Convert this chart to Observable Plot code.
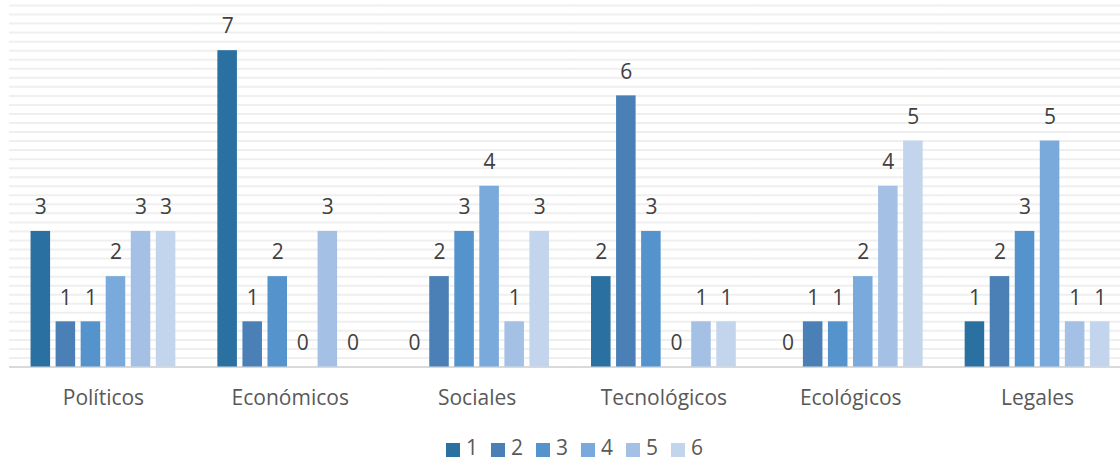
<!DOCTYPE html>
<html>
<head>
<meta charset="utf-8">
<script src="https://cdn.jsdelivr.net/npm/d3@7"></script>
<script src="https://cdn.jsdelivr.net/npm/@observablehq/plot@0.6"></script>
<style>
  html, body { margin: 0; padding: 0; background: #fff; overflow: hidden; }
  #chart { width: 1120px; height: 425px; overflow: hidden; }
  #legend { width: 1120px; height: 38px; display: flex; justify-content: center; align-items: flex-start; padding-top: 12px; padding-left: 29px; box-sizing: border-box;
            font-family: 'Open Sans', sans-serif; font-size: 21px; line-height: 21px; color: #595959; }
  .key { display: inline-flex; align-items: baseline; margin-right: 13px; }
  .key:last-child { margin-right: 0; }
  .key svg { margin-right: 6px; position: relative; top: 2px; }
</style>
</head>
<body>
<div id="chart"></div>
<div id="legend"></div>
<script>
// PESTEL factor groups and the six rating series
const categories = ["Políticos", "Económicos", "Sociales", "Tecnológicos", "Ecológicos", "Legales"];
const seriesNames = ["1", "2", "3", "4", "5", "6"];
const series1 = [3, 7, 0, 2, 0, 1];
const series2 = [1, 1, 2, 6, 1, 2];
const series3 = [1, 2, 3, 3, 1, 3];
const series4 = [2, 0, 4, 0, 2, 5];
const series5 = [3, 3, 1, 1, 4, 1];
const series6 = [3, 0, 3, 1, 5, 1];
const seriesColors = ["#2a70a0", "#4a80b6", "#5593cc", "#7aa9db", "#a4c1e5", "#c3d5ec"];

const allSeries = [series1, series2, series3, series4, series5, series6];
const data = [];
categories.forEach((cat, i) => {
  seriesNames.forEach((s, j) => data.push({cat, series: s, value: allSeries[j][i]}));
});

// light horizontal guides every 0.2 units up to the top of the value axis
const yMax = 8;
const gridVals = d3.range(1, yMax * 5 + 1).map(k => k / 5);

const plot = Plot.plot({
  width: 1130,
  height: 425,
  marginLeft: 10,
  marginRight: 0,
  marginTop: 5,
  marginBottom: 58.5,
  style: {fontFamily: "'Open Sans', sans-serif", fontSize: "21px", color: "#595959", background: "transparent", maxWidth: "none"},
  facet: {data, x: "cat", label: null},
  fx: {domain: categories, paddingInner: 0.225, paddingOuter: 0.11, round: false, axis: "bottom", tickSize: 0, tickPadding: 23.5, label: null},
  x: {domain: seriesNames, paddingInner: 0.22, paddingOuter: 0, round: false, axis: null},
  y: {domain: [0, yMax], axis: null},
  color: {domain: seriesNames, range: seriesColors},
  marks: [
    Plot.ruleY(gridVals, {y: d => d, stroke: "#efefef", strokeWidth: 2, insetLeft: -21.5, insetRight: -21.5}),
    Plot.ruleY([0], {stroke: "#d9d9d9", strokeWidth: 2, insetLeft: -21.5, insetRight: -21.5}),
    Plot.barY(data, {x: "series", y: "value", fill: "series"}),
    Plot.text(data, {x: "series", y: "value", text: d => String(d.value), dy: -24, fill: "#404040", fontSize: 21})
  ]
});
document.getElementById("chart").appendChild(plot);

// series key: a small square in the series colour, then its name
const colorScale = plot.scale("color");
const legend = d3.select("#legend");
seriesNames.forEach(name => {
  const key = legend.append("span").attr("class", "key");
  key.append("svg").attr("width", 14).attr("height", 14)
    .append("rect").attr("width", 14).attr("height", 14)
    .attr("fill", colorScale.apply(name));
  key.append("span").text(name);
});
</script>
</body>
</html>
